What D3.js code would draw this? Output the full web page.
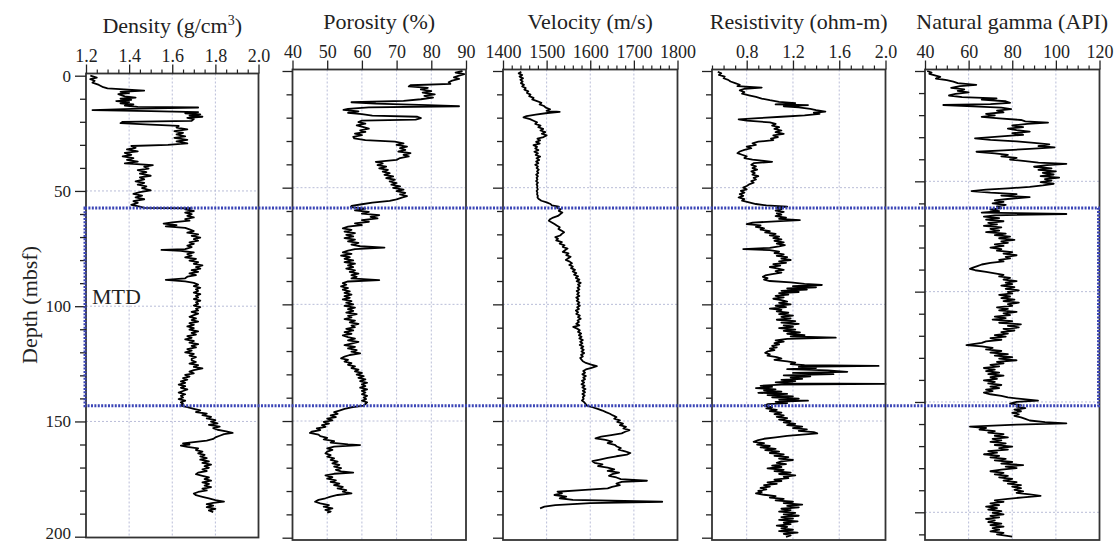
<!DOCTYPE html>
<html>
<head>
<meta charset="utf-8">
<script src="https://cdn.jsdelivr.net/npm/d3@7"></script>
<style>
  html, body { margin: 0; padding: 0; background: #fff; }
  svg { display: block; font-family: "Liberation Serif", "Times New Roman", serif; }
</style>
</head>
<body>
<svg id="chart" width="1119" height="545"></svg>
<script>
// ---- Well-log data: [depth (mbsf), value] ----
const densityLog = [
[0,1.22],[0.8,1.25],[1.5,1.22],[2.2,1.24],[3,1.23],[4,1.26],[5,1.28],[5.5,1.30],[6.5,1.47],[7,1.36],[7.5,1.40],[8,1.35],[9,1.38],[9.5,1.43],[10,1.36],[10.5,1.41],[11,1.34],[11.5,1.40],[12,1.36],[12.5,1.42],[13,1.38],[13.5,1.44],
[13.8,1.72],[14.3,1.45],[14.9,1.23],[15.4,1.50],[15.8,1.72],[16.3,1.66],[16.8,1.73],[17.3,1.68],[17.8,1.74],[18.3,1.67],[18.8,1.70],[19.6,1.69],[20.0,1.37],[20.6,1.36],[21.2,1.50],[21.8,1.63],[22.5,1.62],[23.3,1.67],[24,1.61],[24.8,1.65],[25.5,1.62],[26.3,1.66],[27,1.61],[27.8,1.67],[28.5,1.62],[29.4,1.67],[30,1.58],
[30.5,1.41],[31.3,1.43],[32,1.39],[32.8,1.44],[33.5,1.38],[34.3,1.41],[35,1.37],[35.8,1.42],[36.5,1.39],[37.3,1.44],[38,1.38],[38.8,1.51],[39.5,1.47],[40.3,1.49],[41,1.44],[41.8,1.48],[42.5,1.45],[43.4,1.50],[44.1,1.45],[45,1.47],[45.8,1.43],[46.5,1.47],[47.3,1.44],[48,1.48],[48.8,1.46],[49.7,1.50],[50.5,1.45],[51.3,1.42],[52,1.46],[52.8,1.43],[53.6,1.47],[54.4,1.42],[55.2,1.44],[56,1.41],[56.8,1.45],[57.3,1.47],
[57.5,1.69],[58,1.66],[58.7,1.70],[59.4,1.66],[60.1,1.69],[60.8,1.67],[61.5,1.70],[62.2,1.66],[62.9,1.68],[63.6,1.60],[64.2,1.56],[64.8,1.62],[65.4,1.57],[66,1.66],[66.7,1.68],[67.4,1.70],[68.1,1.67],[68.8,1.72],[69.5,1.69],[70.2,1.73],[70.9,1.70],[71.6,1.72],[72.3,1.68],[73,1.70],[73.7,1.67],[74.4,1.69],[75.2,1.66],[75.6,1.55],[76,1.64],[76.7,1.70],[77.4,1.67],[78.1,1.69],[78.8,1.66],[79.5,1.71],[80.2,1.68],[80.9,1.72],[81.6,1.70],[82.3,1.74],[83,1.71],[83.7,1.73],[84.4,1.69],[85.1,1.72],[85.8,1.68],[86.5,1.71],[87.2,1.67],[87.9,1.66],[88.6,1.57],[89.2,1.66],[89.9,1.70],
[90.6,1.72],[91.3,1.70],[92,1.73],[92.7,1.71],[93.4,1.72],[94.1,1.70],[94.8,1.73],[95.5,1.71],[96.2,1.72],[96.9,1.70],[97.6,1.73],[98.3,1.71],[99,1.72],[99.7,1.70],[100.4,1.73],[101.1,1.71],[101.8,1.72],[102.5,1.69],[103.2,1.72],[103.9,1.70],[104.6,1.68],[105.3,1.71],[106,1.69],[106.7,1.72],[107.4,1.68],[108.1,1.70],[108.8,1.67],[109.5,1.70],[110.2,1.68],[110.9,1.72],[111.6,1.69],[112.3,1.71],[113,1.67],[113.7,1.69],[114.4,1.66],[115.1,1.70],[115.8,1.68],[116.5,1.72],[117.2,1.69],[117.9,1.71],[118.6,1.67],[119.3,1.69],[120,1.66],[120.7,1.70],[121.4,1.68],[122.1,1.71],[122.8,1.69],[123.5,1.69],[124.2,1.71],[124.9,1.68],[125.6,1.72],[126.3,1.70],[127,1.74],[127.7,1.70],[128.4,1.68],[129.1,1.70],[129.8,1.66],[130.5,1.68],[131.2,1.65],[131.9,1.67],[132.6,1.64],[133.3,1.66],[134,1.63],[134.7,1.66],[135.4,1.64],[136.1,1.67],[136.8,1.65],[137.5,1.63],[138.2,1.66],[138.9,1.64],[139.6,1.65],[140.3,1.63],[141,1.66],[141.7,1.64],[142.4,1.65],[143.1,1.64],
[143.8,1.67],[144.5,1.70],[145.2,1.73],[145.9,1.71],[146.6,1.76],[147.3,1.74],[148,1.78],[148.7,1.76],[149.4,1.80],[150.1,1.78],[150.8,1.81],[151.5,1.77],[152.2,1.82],[152.9,1.79],[153.6,1.81],[154.3,1.85],[155,1.88],[155.5,1.84],[156.2,1.82],[156.9,1.80],[157.6,1.79],[158.3,1.76],[159,1.70],[159.5,1.65],[160,1.68],[160.5,1.64],[161,1.67],[161.7,1.72],[162.4,1.71],[163.1,1.74],[163.8,1.72],[164.5,1.75],[165.2,1.73],[165.9,1.76],[166.6,1.73],[167.3,1.77],[168,1.74],[168.7,1.78],[169.4,1.75],[170.1,1.77],[170.8,1.74],[171.5,1.76],[172.2,1.72],[172.9,1.71],[173.6,1.74],[174.3,1.77],[175,1.75],[175.7,1.78],[176.4,1.74],[177.1,1.77],[177.8,1.75],[178.5,1.78],[179.2,1.74],[179.9,1.76],[180.6,1.72],[181.3,1.70],[182,1.71],[182.7,1.74],[183.4,1.77],[184.1,1.80],[184.8,1.84],[185.3,1.79],[185.9,1.76],[186.5,1.79],[187.2,1.76],[187.9,1.80],[188.6,1.77],[189.3,1.79]
];

const porosityLog = [
[0,89],[0.7,87],[1.3,89.5],[2,88],[2.7,86.5],[3.4,88],[4.1,86],[4.8,85],[5.5,85.5],[6.1,74],[6.6,73.5],[7.2,79],[7.9,77],[8.6,80],[9.3,77.5],[10,81],[10.7,78],[11.4,80.5],[12.1,77],[12.8,72],[13.4,57],[14,64],[14.6,79],[15.1,88],[15.6,62],[16.2,56],[16.7,54.7],[17.3,59],[17.9,56],[18.5,60],[19.1,63],[19.6,76],[20.2,77],[20.8,75.5],[21.3,60],[21.9,59],[22.6,61],[23.3,58.5],[24,60.5],[24.7,62],[25.4,59.5],[26.1,61],[26.8,58],[27.5,60],[28.2,57.5],[28.9,57.8],[29.6,61],
[30.3,69.5],[31,72],[31.7,70],[32.4,73],[33.1,71],[33.8,72.5],[34.5,70.5],[35.2,74],[35.9,72],[36.6,73.5],[37.3,71],[38.1,70],[38.9,64],[39.6,66],[40.3,64.5],[41,67],[41.7,65],[42.4,67.5],[43.1,66],[43.8,68],[44.5,66.5],[45.2,69],[45.9,67],[46.6,69.5],[47.3,68],[48,70],[48.7,68.5],[49.4,71],[50.1,69],[50.8,72],[51.5,70],[52.2,72.5],[52.9,71],[53.6,73],[54.3,71.5],[55,70],[55.7,68],[56.4,63],[57.1,60],[57.8,57],
[58.3,56.8],[59,61],[59.7,58],[60.4,62],[61.1,60],[61.8,65],[62.5,62.5],[63.2,64.5],[63.9,60],[64.6,62],[65.3,58],[66,60],[66.7,56],[67.4,54.5],[68.1,57],[68.8,55],[69.5,58],[70.2,55.5],[70.9,57.5],[71.6,55],[72.3,58],[73,56],[73.7,59],[74.4,57],[75.1,59.5],[75.7,66.5],[76.3,58],[77,56],[77.7,54.5],[78.4,57],[79.1,54],[79.8,56.5],[80.5,55],[81.2,57.5],[81.9,55],[82.6,58],[83.3,56],[84,57.5],[84.7,55.5],[85.4,58],[86.1,56.5],[86.8,59],[87.5,57],[88.2,58.5],[88.9,57],[89.6,65],[90.2,56],
[90.9,54.5],[91.6,55.5],[92.3,54],[93,56],[93.7,54.5],[94.4,56.5],[95.1,55],[95.8,57],[96.5,55],[97.2,56.5],[97.9,54.5],[98.6,57],[99.3,55.5],[100,57.5],[100.7,55],[101.4,58],[102.1,56],[102.8,57.5],[103.5,55.5],[104.2,58.5],[104.9,56],[105.6,57],[106.3,55],[107,58],[107.7,56.5],[108.4,59],[109.1,57],[109.8,58],[110.5,55.5],[111.2,57.5],[111.9,55],[112.6,57],[113.3,54.5],[114,56],[114.7,58],[115.4,56],[116.1,59],[116.8,57],[117.5,55],[118.2,58],[118.9,56],[119.6,58.5],[120.3,57],[121,59.5],[121.7,56.5],[122.4,55],[123.1,54],[123.8,56],[124.5,55],[125.2,57],[125.9,56],[126.6,58],[127.3,57],[128,59],[128.7,58],[129.4,60],[130.1,58.5],[130.8,60.5],[131.5,59],[132.2,61],[132.9,59.5],[133.6,61.5],[134.3,60],[135,61],[135.7,59.5],[136.4,61.5],[137.1,60],[137.8,61],[138.5,60],[139.2,61.5],[139.9,60.5],[140.6,61.2],[141.3,60],[142,61.5],[142.7,61],[143.4,60.5],
[144.1,57],[144.8,55],[145.5,53.5],[146.2,52],[146.9,53],[147.6,51],[148.3,52.5],[149,50],[149.7,51.5],[150.4,49],[151.1,50.5],[151.8,48.5],[152.5,49.5],[153.2,47],[153.9,48],[154.6,45.5],[155.1,45],[155.8,47.5],[156.5,48],[157.2,50],[157.9,49],[158.6,52],[159.3,51],[160,56],[160.3,59.5],[161,52],[161.7,50],[162.4,51.5],[163.1,50],[163.9,49.5],[164.6,51],[165.3,50],[166,52],[166.7,51],[167.4,53],[168.1,51.5],[168.8,53.5],[169.5,52],[170.2,54],[170.9,52.5],[171.6,54],[172.1,57.5],[172.6,52],[173.3,49.5],[174,51.5],[174.7,50],[175.4,52.5],[176.1,51],[176.8,53.5],[177.5,52],[178.2,54.5],[178.9,53],[179.6,55.5],[180.3,54.5],[181,57],[181.7,53],[182.4,51],[183.1,49.5],[183.8,47.5],[184.6,46.5],[185.3,48],[186,50.5],[186.7,49],[187.4,51.5],[188.1,49.5],[188.8,51],[189.3,50]
];

const velocityLog = [
[0.3,1442],[1,1436],[1.7,1444],[2.4,1438],[3.1,1446],[3.8,1440],[4.5,1445],[5.2,1441],[5.9,1448],[6.6,1444],[7.3,1452],[8,1449],[8.7,1458],[9.4,1455],[10.1,1463],[10.8,1460],[11.5,1470],[12.2,1467],[12.9,1478],[13.6,1488],[14.3,1484],[15,1494],[15.7,1498],[16.4,1508],[17.1,1500],[17.5,1530],[18,1502],[18.7,1475],[19.3,1454],[19.9,1447],[20.6,1462],[21.3,1470],[22,1478],[22.7,1474],[23.4,1486],[24.1,1481],[24.8,1492],[25.5,1486],[26.2,1497],[26.9,1489],[27.6,1500],[28.3,1493],[29,1479],[29.7,1485],
[30.4,1476],[31.1,1484],[31.8,1470],[32.5,1478],[33.2,1474],[33.9,1481],[34.6,1472],[35.3,1480],[36,1475],[36.7,1485],[37.4,1477],[38.1,1483],[38.8,1476],[39.5,1481],[40.2,1474],[40.9,1480],[41.6,1477],[42.3,1482],[43,1478],[43.7,1481],[44.4,1476],[45.1,1480],[45.8,1477],[46.5,1479],[47.2,1476],[47.9,1480],[48.6,1477],[49.3,1479],[50,1478],[50.7,1480],[51.4,1477],[52.1,1479],[52.8,1478],[53.5,1480],[54.2,1479],[54.9,1482],[55.6,1488],[56.3,1500],[57,1509],[57.6,1512],[58.1,1528],[58.6,1524],[59.3,1532],[60,1528],[60.7,1536],[61.4,1531],[62.1,1526],[62.8,1515],[63.5,1508],[64.2,1505],[64.9,1512],[65.6,1518],[66.3,1524],[67,1530],[67.7,1527],[68.4,1534],[69.1,1540],[69.8,1535],[70.5,1531],[71.2,1520],[71.9,1526],[72.6,1522],[73.3,1535],[74,1530],[74.7,1541],[75.4,1537],[76.1,1548],[76.8,1542],[77.5,1537],[78.2,1550],[78.9,1545],[79.6,1555],[80.3,1549],[81,1544],[81.7,1553],[82.4,1558],[83.1,1552],[83.8,1560],[84.5,1556],[85.2,1565],[85.9,1560],[86.6,1568],[87.3,1563],[88,1572],[88.7,1567],[89.4,1575],[90.1,1569],
[90.8,1578],[91.5,1572],[92.2,1576],[92.9,1571],[93.6,1575],[94.3,1569],[95,1574],[95.7,1570],[96.4,1575],[97.1,1568],[97.8,1573],[98.5,1569],[99.2,1575],[99.9,1571],[100.6,1576],[101.3,1570],[102,1574],[102.7,1567],[103.4,1572],[104.1,1568],[104.8,1576],[105.5,1572],[106.2,1578],[106.9,1571],[107.6,1574],[108.3,1568],[109,1575],[109.7,1561],[110.4,1570],[111.1,1576],[111.8,1572],[112.5,1579],[113.2,1574],[113.9,1580],[114.6,1575],[115.3,1583],[116,1577],[116.7,1582],[117.4,1576],[118.1,1584],[118.8,1579],[119.5,1585],[120.2,1580],[120.9,1586],[121.6,1579],[122.3,1583],[123,1577],[123.7,1580],[124.4,1583],[125.1,1590],[125.8,1602],[126.5,1615],[127.2,1603],[127.9,1590],[128.6,1584],[129.3,1588],[130,1582],[130.7,1590],[131.4,1584],[132.1,1588],[132.8,1581],[133.5,1586],[134.2,1580],[134.9,1587],[135.6,1582],[136.3,1589],[137,1583],[137.7,1588],[138.4,1582],[139.1,1587],[139.8,1583],[140.5,1585],[141.2,1581],[141.9,1586],[142.6,1589],[143.4,1592],
[144.1,1605],[144.8,1617],[145.5,1628],[146.2,1636],[146.9,1645],[147.6,1652],[148.3,1660],[149,1655],[149.7,1668],[150.4,1662],[151.1,1675],[151.8,1668],[152.5,1682],[153.2,1676],[153.9,1690],[154.6,1680],[155.3,1672],[156,1648],[156.7,1625],[157.4,1612],[158.1,1635],[158.8,1650],[159.5,1640],[160.2,1656],[160.9,1661],[161.6,1670],[162.3,1665],[163,1680],[163.7,1692],[164.4,1684],[165.1,1660],[165.8,1640],[166.5,1622],[167.2,1605],[167.9,1610],[168.6,1628],[169.3,1618],[170,1640],[170.7,1655],[171.4,1640],[172.1,1666],[172.8,1650],[173.5,1643],[174.2,1660],[174.9,1670],[175.6,1730],[176.1,1672],[176.8,1660],[177.5,1668],[178.2,1650],[178.9,1640],[179.6,1580],[180.3,1525],[181,1535],[181.7,1518],[182.4,1545],[183.1,1530],[183.8,1560],[184.6,1765],[185.2,1600],[186,1520],[186.7,1495],[187.4,1485]
];

const resistivityLog = [
[0.3,0.55],[1,0.58],[1.7,0.56],[2.4,0.61],[3.1,0.60],[3.8,0.64],[4.5,0.66],[5.2,0.70],[5.9,0.74],[6.5,0.72],[7.1,0.93],[7.6,0.78],[8.3,0.74],[9,0.78],[9.7,0.76],[10.4,0.82],[11.1,0.88],[11.8,0.93],[12.5,1.00],[13.2,1.08],[13.8,1.22],[14.3,1.05],[14.6,1.33],[15.1,1.12],[15.6,1.25],[16.2,1.35],[16.8,1.40],[17.4,1.48],[17.9,1.38],[18.4,1.43],[19,1.30],[19.6,1.10],[20.2,0.90],[20.7,0.73],[21.3,0.80],[22,1.00],[22.7,1.05],[23.4,1.02],[24.1,1.08],[24.8,1.04],[25.5,1.10],[26.2,1.05],[26.9,1.12],[27.6,1.03],[28.3,1.07],[29,1.01],[29.6,1.03],
[30.3,0.90],[31,0.85],[31.7,0.88],[32.4,0.80],[33.1,0.84],[33.8,0.78],[34.5,0.74],[35.2,0.72],[35.9,0.76],[36.6,0.80],[37.3,0.78],[38,0.85],[38.9,1.02],[39.5,0.86],[40.2,0.84],[40.9,0.88],[41.6,0.85],[42.3,0.89],[43,0.84],[43.7,0.87],[44.4,0.85],[45.1,0.90],[45.8,0.86],[46.5,0.88],[47.2,0.84],[47.9,0.86],[48.6,0.82],[49.3,0.80],[50,0.77],[50.7,0.80],[51.4,0.75],[52.1,0.78],[52.8,0.74],[53.5,0.77],[54.2,0.73],[54.9,0.78],[55.6,0.76],[56.3,0.82],[57,0.88],[57.6,0.97],
[58.1,1.15],[58.6,1.06],[59.2,1.10],[59.8,1.05],[60.4,1.12],[61,1.06],[61.6,1.10],[62.2,1.05],[62.8,1.14],[63.4,1.08],[63.9,1.26],[64.4,1.05],[65,0.85],[65.6,0.80],[66.2,0.92],[66.8,0.88],[67.4,0.95],[68,0.92],[68.6,1.00],[69.2,0.96],[69.8,1.05],[70.4,1.00],[71,1.08],[71.6,1.03],[72.2,1.10],[72.8,1.04],[73.4,1.12],[74,1.06],[74.6,1.13],[75.2,1.08],[75.8,1.00],[76.3,0.77],[76.8,1.00],[77.4,1.08],[78,1.04],[78.6,1.12],[79.2,1.06],[79.8,1.15],[80.4,1.10],[81,1.18],[81.6,1.08],[82.2,1.14],[82.8,1.03],[83.4,1.09],[84,1.00],[84.6,1.06],[85.2,1.12],[85.8,1.05],[86.4,1.10],[87,1.02],[87.6,0.96],[88.2,0.94],[88.8,0.98],[89.4,0.95],[90,1.00],
[90.6,1.18],[91.2,1.30],[91.7,1.45],[92.2,1.20],[92.7,1.40],[93.2,1.15],[93.7,1.32],[94.2,1.10],[94.7,1.25],[95.2,1.08],[95.8,1.16],[96.4,1.05],[97,1.12],[97.6,1.03],[98.2,1.10],[98.8,1.15],[99.4,1.08],[100,1.18],[100.6,1.05],[101.2,1.14],[101.8,1.00],[102.4,1.10],[103,1.06],[103.6,1.16],[104.2,1.08],[104.8,1.20],[105.4,1.10],[106,1.18],[106.6,1.06],[107.2,1.22],[107.8,1.10],[108.4,1.25],[109,1.12],[109.6,1.20],[110.2,1.08],[110.8,1.22],[111.4,1.12],[112,1.26],[112.6,1.15],[113.2,1.30],[113.7,1.18],[114.3,1.57],[114.8,1.15],[115.4,1.05],[116,1.12],[116.6,1.04],[117.2,1.08],[117.8,1.02],[118.4,1.06],[119,1.00],[119.6,1.04],[120.2,0.98],[120.8,0.96],[121.4,1.00],[122,0.98],[122.6,1.06],[123.2,1.10],[123.8,1.04],[124.4,1.15],[125,1.22],[125.6,1.18],[126.1,1.30],[126.4,1.94],[126.8,1.25],[127.3,1.40],[127.8,1.15],[128.3,1.50],[128.9,1.67],[129.4,1.20],[129.9,1.55],[130.4,1.12],[130.9,1.35],[131.4,1.18],[131.9,1.28],[132.4,1.10],[132.9,1.22],[133.4,1.05],[133.9,1.20],[134.1,2.00],[134.4,1.10],[134.9,0.92],[135.4,1.02],[135.9,0.88],[136.4,1.05],[136.9,0.95],[137.4,1.10],[137.9,0.90],[138.4,1.15],[138.9,0.98],[139.4,1.20],[139.9,1.02],[140.4,1.25],[140.9,1.08],[141.3,1.33],[141.8,1.05],[142.3,1.15],[142.8,0.98],[143.4,0.95],
[144,1.02],[144.6,0.97],[145.2,1.06],[145.8,1.00],[146.4,1.10],[147,1.04],[147.6,1.12],[148.2,1.06],[148.8,1.15],[149.4,1.08],[150,1.18],[150.6,1.12],[151.2,1.22],[151.8,1.15],[152.4,1.28],[153,1.20],[153.6,1.32],[154.2,1.25],[154.8,1.38],[155.3,1.41],[155.8,1.28],[156.4,1.15],[157,1.05],[157.6,0.95],[158.2,0.90],[158.9,0.86],[159.5,0.95],[160.1,0.89],[160.7,1.00],[161.3,0.92],[161.9,1.05],[162.5,0.96],[163.1,1.08],[163.7,1.00],[164.3,1.12],[164.9,1.04],[165.5,1.16],[166.1,1.08],[166.7,1.20],[167.3,1.10],[167.9,1.06],[168.5,1.14],[169.1,1.02],[169.7,1.10],[170.3,0.98],[170.9,1.12],[171.5,1.04],[172.1,1.18],[172.7,1.08],[173.3,1.22],[173.9,1.12],[174.5,1.16],[175.1,1.04],[175.7,1.10],[176.3,0.98],[176.9,1.06],[177.5,0.95],[178.1,1.00],[178.7,0.92],[179.3,0.97],[179.9,0.90],[180.5,0.93],[181,0.88],[181.6,0.95],[182.2,1.05],[182.8,1.00],[183.4,1.12],[184,1.05],[184.6,1.20],[185.2,1.12],[185.8,1.28],[186.4,1.15],[187,1.25],[187.6,1.10],[188.2,1.18],[188.8,1.08],[189.4,1.22],[190,1.12],[190.6,1.25],[191.2,1.10],[191.8,1.20],[192.4,1.08],[193,1.24],[193.6,1.12],[194.2,1.18],[194.8,1.06],[195.4,1.15],[196,1.10],[196.6,1.20],[197.2,1.08],[197.8,1.24],[198.4,1.12],[199,1.18],[199.6,1.14]
];

const gammaLog = [
[0,41],[0.7,43],[1.3,42],[2,44.5],[2.7,47],[3.4,45],[4.1,50],[4.8,53],[5.5,55],[6.3,63.5],[6.9,56],[7.6,52],[8.3,58],[9,55],[9.7,60],[10.4,54],[11.1,51],[11.8,57],[12.4,72.8],[13,66],[13.7,77],[14.4,79],[15,70],[15.4,48.4],[16,62],[16.6,75],[17.3,79.5],[18,73],[18.7,76],[19.4,68],[20.1,72],[20.8,66],[21.5,74],[22.2,84],[22.8,86],[23.4,96.4],[24,87],[24.7,80],[25.4,85],[26.1,78],[26.8,82],[27.5,88],[28.2,80],[28.9,85],[29.6,75],
[30.5,62.9],[31.2,70],[31.9,82],[32.6,90],[33.3,97],[34,92],[34.6,99.4],[35.3,88],[36,76],[36.6,63.6],[37.3,72],[38,78],[38.7,75],[39.4,82],[40.1,79],[40.8,86],[41.5,92],[42.1,104.8],[42.7,96],[43.4,90],[44.1,98],[44.8,92],[45.5,100],[46.2,94],[46.9,99],[47.6,93],[48.3,101.5],[49,95],[49.7,98],[50.4,93],[51.1,99],[51.8,94],[52.5,88],[53.2,78],[53.8,68],[54.4,61.3],[55.1,70],[55.8,82],[56.5,75],[57.2,88],[57.9,79],[58.6,72],[59.3,76],
[60,71],[60.7,77],[61.4,73],[62.1,75],[62.8,70],[63.5,74],[64.2,66],[64.8,104.8],[65.4,72],[66,67],[66.7,74],[67.4,68],[68.1,76],[68.8,69],[69.5,73],[70.2,67],[70.9,75],[71.6,70],[72.3,74],[73,68],[73.7,77],[74.4,72],[75.1,79],[75.8,74],[76.5,81],[77.2,75],[77.9,78],[78.6,72],[79.3,76],[80,70],[80.7,75],[81.4,73],[82.1,80],[82.8,76],[83.5,82],[84.2,77],[84.9,79],[85.6,74],[86.3,76],[87,70],[87.7,66],[88.4,64],[89.1,62],[89.7,60.6],[90.3,63],
[91,68],[91.7,72],[92.4,76],[93.1,74],[93.8,79],[94.5,76],[95.2,82],[95.9,77],[96.6,80],[97.3,75],[98,81],[98.7,77],[99.4,83],[100.1,78],[100.8,80],[101.5,74],[102.2,79],[102.9,75],[103.6,81],[104.3,76],[105,83],[105.7,78],[106.4,80],[107.1,73],[107.8,78],[108.5,74],[109.2,82],[109.9,76],[110.6,79],[111.3,72],[112,77],[112.7,71],[113.4,80],[114.1,74],[114.8,84],[115.5,78],[116.2,83],[116.9,76],[117.6,81],[118.3,75],[119,78],[119.7,72],[120.4,77],[121.1,70],[121.8,75],[122.5,68],[123.2,66],[123.8,62],[124.2,59],[124.8,66],[125.5,71],[126.2,68],[126.9,75],[127.6,70],[128.3,78],[129,72],[129.7,80],[130.4,74],[131.1,82],[131.8,73],[132.5,76],[133.2,70],[133.9,74],[134.6,67],[135.3,72],[136,68],[136.7,74],[137.4,69],[138.1,76],[138.8,70],[139.5,73],[140.2,67],[140.9,72],[141.6,69],[142.3,75],[143,70],[143.7,74],[144.4,68],[145.1,71],[145.8,67],[146.5,70],[147.2,75],[147.9,78],[148.6,84],[149.4,91.8],[150,82],
[150.7,79],[151.4,84],[152.1,82],[152.8,86],[153.5,81],[154.2,84],[154.9,80],[155.6,83],[156.3,81],[157,84],[157.7,86],[158.4,88],[159.1,95],[159.7,104.8],[160.3,82],[161.2,60.6],[161.8,68],[162.5,65],[163.2,72],[163.9,69],[164.6,76],[165.3,72],[166,78],[166.7,71],[167.4,75],[168.1,70],[168.8,77],[169.5,72],[170.2,80],[170.9,74],[171.6,78],[172.3,69],[173,73],[173.7,67],[174.4,74],[175.1,70],[175.8,77],[176.5,72],[177.2,80],[177.9,75],[178.6,85],[179.3,77],[180,82],[180.7,75],[181.4,70],[182.1,76],[182.8,72],[183.5,78],[184.2,74],[184.9,80],[185.6,76],[186.3,82],[187,78],[187.7,84],[188.4,80],[189.1,84],[189.8,81],[190.5,85],[191.2,82],[191.9,88],[192.6,93],[193.2,85],[193.9,78],[194.6,72],[195.3,76],[196,70],[196.7,74],[197.4,68],[198.1,73],[198.8,69],[199.5,75],[200.2,71],[200.9,76],[201.6,70],[202.3,74],[203,68],[203.7,72],[204.4,69],[205.1,75],[205.8,70],[206.5,76],[207.2,71],[207.9,74],[208.6,70],[209.3,76],[210,73],[211,80]
];

// ---- Axis definitions ----
const trackTitles = ["Density (g/cm", "Porosity (%)", "Velocity (m/s)", "Resistivity (ohm-m)", "Natural gamma (API)"];
const valueDomains = [[1.2, 2.0], [40, 90], [1400, 1800], [0.5, 2.0], [40, 120]];
const majorTicks = [
  [1.2, 1.4, 1.6, 1.8, 2.0],
  [40, 50, 60, 70, 80, 90],
  [1400, 1500, 1600, 1700, 1800],
  [0.8, 1.2, 1.6, 2.0],
  [40, 60, 80, 100, 120]
];
const minorSteps = [0.05, null, 20, 0.1, 5];
const tickDecimals = [1, 0, 0, 1, 0];
const depthLabels = [0, 50, 100, 150, 200];
const depthGridLines = [[50, 100, 150], [50, 100, 150], [50, 100, 150], [50, 100, 150], [50, 100, 150, 200]];
const depthTickMax = [200, 200, 200, 200, 210];
const mtdInterval = [57.4, 143.2];

// ---- Layout ----
const layout = [
  { x0: 86,    x1: 258.5, top: 73.5, bottom: 537.5, d0: 75.7, d200: 536.7 },
  { x0: 292.5, x1: 466,   top: 69.5, bottom: 540,   d0: 71,   d200: 537.7 },
  { x0: 503,   x1: 677.5, top: 69.5, bottom: 540,   d0: 71,   d200: 537.7 },
  { x0: 712,   x1: 885.5, top: 69.5, bottom: 540,   d0: 71,   d200: 537.7 },
  { x0: 925,   x1: 1099.5,top: 69.5, bottom: 540,   d0: 71,   d200: 512.3 }
];
const logs = [densityLog, porosityLog, velocityLog, resistivityLog, gammaLog];

const svg = d3.select("#chart");
const INK = "#222";
const GRID = "#b9bdd8";

layout.forEach((L, i) => {
  const x = d3.scaleLinear().domain(valueDomains[i]).range([L.x0, L.x1]);
  const y = d3.scaleLinear().domain([0, 200]).range([L.d0, L.d200]);
  const g = svg.append("g");

  // grid
  const gx = majorTicks[i].filter(v => x(v) > L.x0 + 2 && x(v) < L.x1 - 2);
  g.selectAll(".vgrid").data(gx).join("line")
    .attr("x1", d => x(d)).attr("x2", d => x(d))
    .attr("y1", L.top).attr("y2", L.bottom)
    .attr("stroke", GRID).attr("stroke-width", 1).attr("stroke-dasharray", "2,2");
  g.selectAll(".hgrid").data(depthGridLines[i]).join("line")
    .attr("x1", L.x0).attr("x2", L.x1)
    .attr("y1", d => y(d)).attr("y2", d => y(d))
    .attr("stroke", GRID).attr("stroke-width", 1).attr("stroke-dasharray", "2,2");

  // log curve
  const line = d3.line().x(d => x(d[1])).y(d => y(d[0]));
  g.append("path").datum(logs[i])
    .attr("d", line).attr("fill", "none")
    .attr("stroke", "#000").attr("stroke-width", 1.8).attr("stroke-linejoin", "round");

  // frame
  g.append("rect").attr("x", L.x0).attr("y", L.top)
    .attr("width", L.x1 - L.x0).attr("height", L.bottom - L.top)
    .attr("fill", "none").attr("stroke", "#333").attr("stroke-width", 1.8);

  // top axis: majors with labels, minors unlabeled
  const fmt = d3.format("." + tickDecimals[i] + "f");
  const topMajor = d3.axisTop(x).tickValues(majorTicks[i]).tickSize(9).tickPadding(3).tickFormat(fmt);
  const ta = g.append("g").attr("transform", `translate(0,${L.top})`).call(topMajor);
  ta.select(".domain").remove();
  ta.selectAll("line").attr("stroke", INK).attr("stroke-width", 1.3);
  ta.selectAll("text").attr("font-family", "Liberation Serif, serif").attr("font-size", 18).attr("fill", "#222");

  if (minorSteps[i]) {
    const dom = valueDomains[i];
    const minors = d3.range(dom[0], dom[1] + minorSteps[i] / 2, minorSteps[i])
      .filter(v => !majorTicks[i].some(m => Math.abs(m - v) < minorSteps[i] / 10));
    const topMinor = d3.axisTop(x).tickValues(minors).tickSize(4).tickFormat("");
    const tm = g.append("g").attr("transform", `translate(0,${L.top})`).call(topMinor);
    tm.select(".domain").remove();
    tm.selectAll("line").attr("stroke", INK).attr("stroke-width", 1.2);
  }

  // left depth ticks
  const dTicks = d3.range(0, depthTickMax[i] + 1, 10);
  const minorDepth = dTicks.filter(d => d % 50 !== 0);
  const majorDepth = dTicks.filter(d => d % 50 === 0);
  const lm = g.append("g").attr("transform", `translate(${L.x0},0)`)
    .call(d3.axisLeft(y).tickValues(minorDepth).tickSize(6).tickFormat(""));
  lm.select(".domain").remove();
  lm.selectAll("line").attr("stroke", INK).attr("stroke-width", 1.3);
  const lM = g.append("g").attr("transform", `translate(${L.x0},0)`)
    .call(d3.axisLeft(y).tickValues(i === 0 ? depthLabels : majorDepth).tickSize(i === 0 ? 11 : 10).tickPadding(4)
      .tickFormat(i === 0 ? d3.format("d") : ""));
  lM.select(".domain").remove();
  lM.selectAll("line").attr("stroke", INK).attr("stroke-width", 1.3);
  lM.selectAll("text").attr("font-family", "Liberation Serif, serif").attr("font-size", 17).attr("fill", "#222")
    .attr("dy", d => d === 200 ? "0.12em" : "0.32em");

  // title
  const t = svg.append("text")
    .attr("x", (L.x0 + L.x1) / 2).attr("y", L.top - 41)
    .attr("text-anchor", "middle").attr("font-size", 22).attr("fill", "#222")
    .text(trackTitles[i]);
  if (i === 0) {
    t.append("tspan").attr("dy", -8).attr("font-size", 14).text("3");
    t.append("tspan").attr("dy", 8).text(")");
  }
});

// depth axis label
const yL = layout[0];
svg.append("text")
  .attr("transform", "translate(37,305) rotate(-90)")
  .attr("text-anchor", "middle").attr("font-size", 22).attr("fill", "#222")
  .text("Depth (mbsf)");

// MTD interval box across all tracks
const yMtd = d3.scaleLinear().domain([0, 200]).range([yL.d0, yL.d200]);
const boxTop = yMtd(mtdInterval[0]);
const boxBottom = yMtd(mtdInterval[1]);
svg.append("rect")
  .attr("x", layout[0].x0 - 1).attr("y", boxTop)
  .attr("width", layout[4].x1 - layout[0].x0).attr("height", boxBottom - boxTop)
  .attr("fill", "none").attr("stroke", "#3b45b6").attr("stroke-width", 3)
  .attr("stroke-dasharray", "2,1.4");

svg.append("text")
  .attr("x", layout[0].x0 + 6).attr("y", yMtd(99))
  .attr("font-size", 22).attr("fill", "#222")
  .text("MTD");
</script>
</body>
</html>
